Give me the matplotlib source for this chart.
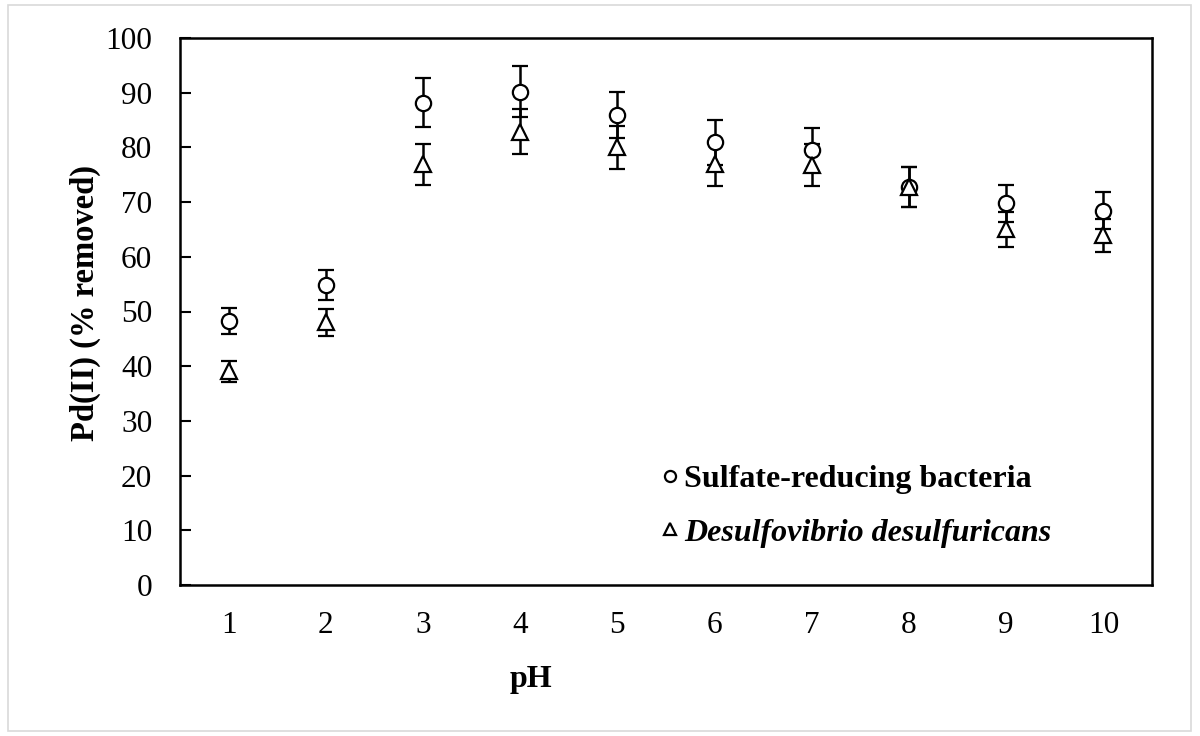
import numpy as np
import matplotlib.pyplot as plt
from matplotlib.lines import Line2D
from matplotlib.patches import Rectangle

plt.rcParams['font.family'] = ['Liberation Serif', 'DejaVu Serif']

# datos
ph = [1, 2, 3, 4, 5, 6, 7, 8, 9, 10]
srb = [48.3, 54.8, 88.2, 90.2, 85.9, 80.9, 79.5, 72.8, 69.8, 68.4]
srb_err = [2.4, 2.75, 4.4, 4.7, 4.2, 4.2, 4.0, 3.7, 3.4, 3.4]
dd = [39.1, 48.0, 76.9, 82.9, 80.0, 76.9, 76.8, 72.8, 65.0, 63.9]
dd_err = [1.9, 2.4, 3.8, 4.1, 4.0, 3.9, 3.8, 3.7, 3.2, 3.1]

fig = plt.figure(figsize=(12, 7.36), dpi=100)
ax = fig.add_axes([180/1200, 1 - 585/736, (1152-180)/1200, (585-38)/736])

# borde de la figura
fig.patches.append(Rectangle((8/1200, 5/736), 1183/1200, 726/736, transform=fig.transFigure,
                             fill=False, edgecolor='#d9d9d9', linewidth=1.2))

ax.errorbar(ph, srb, yerr=srb_err, fmt='o', color='black', mfc='white', mec='black',
            ms=11, mew=1.6, elinewidth=1.8, capsize=6, capthick=1.8, zorder=3)
ax.errorbar(ph, dd, yerr=dd_err, fmt='^', color='black', mfc='white', mec='black',
            ms=11, mew=1.6, elinewidth=1.8, capsize=6, capthick=1.8, zorder=3)

ax.set_xlim(0.5, 10.5)
ax.set_ylim(0, 100)
ax.set_xticks(ph)
ax.set_yticks(np.arange(0, 101, 10))
ax.tick_params(axis='x', length=0, labelsize=22.5, pad=19)
ax.tick_params(axis='y', direction='in', length=8, width=1.5, labelsize=22.5, pad=20)
for s in ax.spines.values():
    s.set_linewidth(1.8)

fig.text(531/1200, 1 - 680/736, 'pH', ha='center', va='center', fontsize=23, fontweight='bold')
fig.text(85/1200, 1 - 303/736, 'Pd(II) (% removed)', ha='center', va='center',
         rotation=90, fontsize=23.5, fontweight='bold')

handles = [Line2D([], [], ls='none', marker='o', ms=8, mfc='white', mec='black', mew=1.6),
           Line2D([], [], ls='none', marker='^', ms=8, mfc='white', mec='black', mew=1.6)]
leg = ax.legend(handles, ['Sulfate-reducing bacteria', 'Desulfovibrio desulfuricans'],
                loc='upper left', bbox_to_anchor=(646/1200, 1 - 449/736),
                bbox_transform=fig.transFigure, frameon=False, handlelength=0.5,
                handletextpad=0.2, labelspacing=0.75, borderpad=0,
                prop={'size': 23, 'weight': 'bold'})
leg.get_texts()[1].set_fontstyle('italic')

fig.savefig('out.png', dpi=100)
